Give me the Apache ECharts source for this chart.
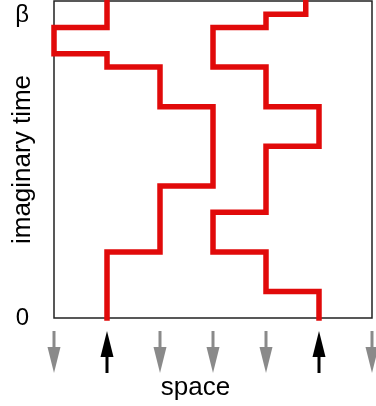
<!DOCTYPE html>
<html>
<head>
<meta charset="utf-8">
<script src="https://cdn.jsdelivr.net/npm/echarts@6/dist/echarts.min.js"></script>
<style>
  html, body { margin: 0; padding: 0; background: #fff; }
  #chart { width: 376px; height: 406px; }
</style>
</head>
<body>
<div id="chart"></div>
<script>
// lattice sites along space, spin at each site at tau = 0 (1 = up, -1 = down)
const sites = [0, 1, 2, 3, 4, 5, 6]
const spins = [-1, 1, -1, -1, -1, 1, -1]
// imaginary time runs from 0 to beta (24 steps)
const betaSteps = 24
const timeLabels = ['0', 'β']
// world lines as [site, time] corner points
const worldlineA = [
  [1, 0], [1, 5], [2, 5], [2, 10], [3, 10], [3, 16], [2, 16], [2, 19],
  [1, 19], [1, 20], [0, 20], [0, 22], [1, 22], [1, 24]
]
const worldlineB = [
  [5, 0], [5, 2], [4, 2], [4, 5], [3, 5], [3, 8], [4, 8], [4, 13],
  [5, 13], [5, 16], [4, 16], [4, 19], [3, 19], [3, 22], [4, 22], [4, 23],
  [4.75, 23], [4.75, 24]
]

const font = "'Liberation Sans', Arial, sans-serif"
const red = '#e10a0a'

function arrowItem(params, api) {
  const x = api.coord([api.value(0), 0])[0]
  const yTop = api.coord([0, 1])[1]
  const yBot = api.coord([0, 0])[1]
  const up = api.value(1) > 0
  const color = up ? '#000' : '#8a8a8a'
  const head = 26, hw = 6.5
  let shaft, tri
  if (up) {
    shaft = {x1: x, y1: yBot, x2: x, y2: yTop + head - 2}
    tri = [[x, yTop], [x - hw, yTop + head], [x + hw, yTop + head]]
  } else {
    shaft = {x1: x, y1: yTop, x2: x, y2: yBot - head + 2}
    tri = [[x, yBot], [x - hw, yBot - head], [x + hw, yBot - head]]
  }
  return {
    type: 'group',
    children: [
      {type: 'line', shape: shaft, style: {stroke: color, lineWidth: 3}},
      {type: 'polygon', shape: {points: tri}, style: {fill: color}}
    ]
  }
}

const lineStyle = {color: red, width: 5.5, join: 'miter', cap: 'square'}

let option = {
  animation: false,
  grid: [
    {left: 54, right: 4, top: 1, height: 317, show: true, borderColor: '#222', borderWidth: 1.5,
      backgroundColor: '#fff', outerBoundsMode: 'none', containLabel: false},
    {left: 54, right: 4, top: 331, height: 42, outerBoundsMode: 'none', containLabel: false}
  ],
  xAxis: [
    {gridIndex: 0, type: 'value', min: 0, max: 6, show: false},
    {
      gridIndex: 1, type: 'value', min: 0, max: 6,
      axisLine: {show: false}, axisTick: {show: false}, axisLabel: {show: false}, splitLine: {show: false},
      name: 'space', nameLocation: 'middle', nameGap: 2, nameMoveOverlap: false,
      nameTextStyle: {fontSize: 26, color: '#000', fontFamily: font, padding: [0, 35, 0, 0]}
    }
  ],
  yAxis: [
    {
      gridIndex: 0, type: 'value', min: 0, max: betaSteps, interval: betaSteps,
      axisLine: {show: false}, axisTick: {show: false}, splitLine: {show: false},
      axisLabel: {
        margin: 25, fontSize: 24, color: '#000', fontFamily: font,
        formatter: v => v === 0 ? timeLabels[0] : '{b|' + timeLabels[1] + '}',
        rich: {b: {fontSize: 24, fontFamily: font, color: '#000', padding: [28, 0, 0, 0]}}
      },
      name: 'imaginary time', nameLocation: 'middle', nameGap: 18, nameRotate: 90, nameMoveOverlap: false,
      nameTextStyle: {fontSize: 26, color: '#000', fontFamily: font}
    },
    {gridIndex: 1, type: 'value', min: 0, max: 1, show: false}
  ],
  series: [
    {
      type: 'line', xAxisIndex: 0, yAxisIndex: 0, data: worldlineA,
      symbol: 'none', clip: false, lineStyle: lineStyle, z: 3
    },
    {
      type: 'line', xAxisIndex: 0, yAxisIndex: 0, data: worldlineB,
      symbol: 'none', clip: false, lineStyle: lineStyle, z: 3
    },
    {
      type: 'custom', xAxisIndex: 1, yAxisIndex: 1,
      data: sites.map((s, i) => [s, spins[i]]),
      renderItem: arrowItem, clip: false
    }
  ]
}

const chart = echarts.init(document.getElementById('chart'))
chart.setOption(option)
window.addEventListener('resize', () => chart.resize())
</script>
</body>
</html>
